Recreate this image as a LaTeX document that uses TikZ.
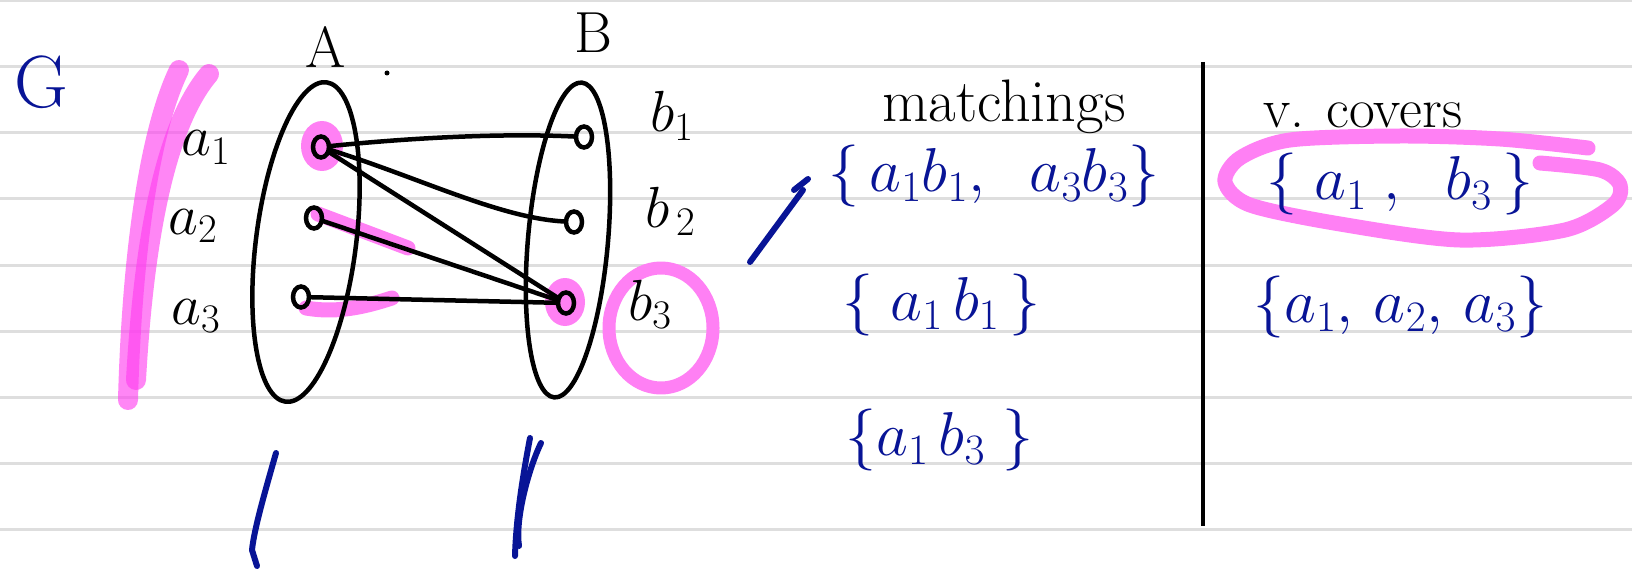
\documentclass[tikz,border=0pt]{standalone}
\usepackage{fix-cm}
\usetikzlibrary{shapes.geometric}
\definecolor{inkblue}{RGB}{8,20,150}
\definecolor{hl}{RGB}{255,128,244}
\definecolor{hldark}{RGB}{255,60,240}
\definecolor{rulegray}{RGB}{222,222,222}
\newcommand{\fs}[1]{\fontsize{#1}{#1}\selectfont}
\begin{document}
\begin{tikzpicture}[x=1pt,y=-1pt,
  vtx/.style={ellipse,draw,line width=4.5pt,minimum width=16pt,minimum height=21pt,inner sep=0pt},
  ink/.style={line width=4.5pt,line cap=round,line join=round},
  blueink/.style={line width=6pt,line cap=round,line join=round,draw=inkblue},
  hilite/.style={line width=16pt,line cap=round,line join=round,draw=hl},
  lefthl/.style={line width=20pt,line cap=round,line join=round,draw=hldark,opacity=0.62},
  blk/.style={inner sep=0pt,text=black},
  blu/.style={inner sep=0pt,text=inkblue}]
\useasboundingbox (0,0) rectangle (1632,572);
\fill[white] (0,0) rectangle (1632,572);
% ruled lines
\foreach \yy in {1,67,133,199,265,331,397,463,529}
  \draw[rulegray,line width=3pt] (0,\yy) -- (1632,\yy);

% pink highlighter strokes (under the ink)
\draw[lefthl] (179,70) .. controls (150,130) and (132,250) .. (128,400);
\draw[lefthl] (209,74) .. controls (170,120) and (145,220) .. (136,380);
\fill[hl] (322,146) ellipse (21 and 25);
\fill[hl] (565,302) ellipse (20 and 24);
\draw[hilite,line width=15pt] (318,214) -- (408,248);
\draw[hilite,line width=15pt] (306,308) .. controls (340,314) and (370,305) .. (392,298);
\draw[hilite,line width=13pt] (661,328) ellipse (52 and 60);
\draw[hilite,line width=15pt] plot[smooth] coordinates {(1588,148) (1500,139) (1400,136) (1290,140) (1240,158) (1225,182) (1250,205) (1340,224) (1460,240) (1565,230) (1613,205) (1620,185) (1600,170) (1540,163)};

% bipartition ellipses
\draw[ink,rotate around={-7.3:(306,242)}] (306,242) ellipse (50 and 161);
\draw[ink,rotate around={-5:(568,240)}] (568,240) ellipse (40 and 158);

% vertices
\node[vtx] (a1) at (321,147) {};
\node[vtx] (a2) at (314,218) {};
\node[vtx] (a3) at (301,297) {};
\node[vtx] (b1) at (584,137) {};
\node[vtx] (b2) at (574,222) {};
\node[vtx] (b3) at (566,303) {};

% edges
\draw[ink] (a1) .. controls (410,138) and (500,133) .. (b1);
\draw[ink] (a1) .. controls (420,178) and (500,218) .. (b2);
\draw[ink] (a1) -- (b3);
\draw[ink] (a2) -- (b3);
\draw[ink] (a3) -- (b3);

% labels
\node[blu,anchor=base] (G) at (41,108) {\fs{74}G};
\node[blk,anchor=base] (labA) at (326,68) {\fs{58}A};
\node[blk,anchor=base] (labB) at (593,53) {\fs{58}B};
\fill (387,73) circle (2.5);
\node[blk,anchor=base west] (la1) at (181,156) {\fs{58}$a_1$};
\node[blk,anchor=base west] (la2) at (168,234) {\fs{58}$a_2$};
\node[blk,anchor=base west] (la3) at (171,324) {\fs{58}$a_3$};
\node[blk,anchor=base west] (lb1) at (650,132) {\fs{58}$b_1$};
\node[blk,anchor=base west] (lb2) at (645,227) {\fs{58}$b_{\,2}$};
\node[blk,anchor=base west] (lb3) at (628,320) {\fs{58}$b_3$};

% column headings
\node[blk,anchor=base west] (match) at (882,122) {\fs{60}matchings};
\node[blk,anchor=base west] (vcov) at (1263,128) {\fs{56}v. covers};
\draw[line width=4pt] (1203,62) -- (1203,526);

% sets
\node[blu,anchor=base west] (m1) at (828,192) {\fs{62}$\Bigl\{\,a_1b_1,\;\;a_3b_3\Bigr\}$};
\node[blu,anchor=base west] (m2) at (842,320) {\fs{62}$\Bigl\{\;a_1\,b_1\,\Bigr\}$};
\node[blu,anchor=base west] (m3) at (845,455) {\fs{62}$\Bigl\{a_1\,b_3\;\Bigr\}$};
\node[blu,anchor=base west] (c1) at (1266,200) {\fs{62}$\Bigl\{\;a_1\;,\;\;b_3\,\Bigr\}$};
\node[blu,anchor=base west] (c2) at (1253,322) {\fs{62}$\Bigl\{a_1,\,a_2,\,a_3\Bigr\}$};

% blue marks
\draw[blueink] (750,262) -- (803,190);
\draw[blueink] (794,190) -- (808,179);
\draw[blueink] (276,453) .. controls (264,495) and (254,530) .. (252,550) -- (257,566);
\draw[blueink] (530,438) .. controls (522,480) and (516,520) .. (515,556);
\draw[blueink] (541,443) .. controls (528,470) and (515,520) .. (519,546);
\end{tikzpicture}
\end{document}
